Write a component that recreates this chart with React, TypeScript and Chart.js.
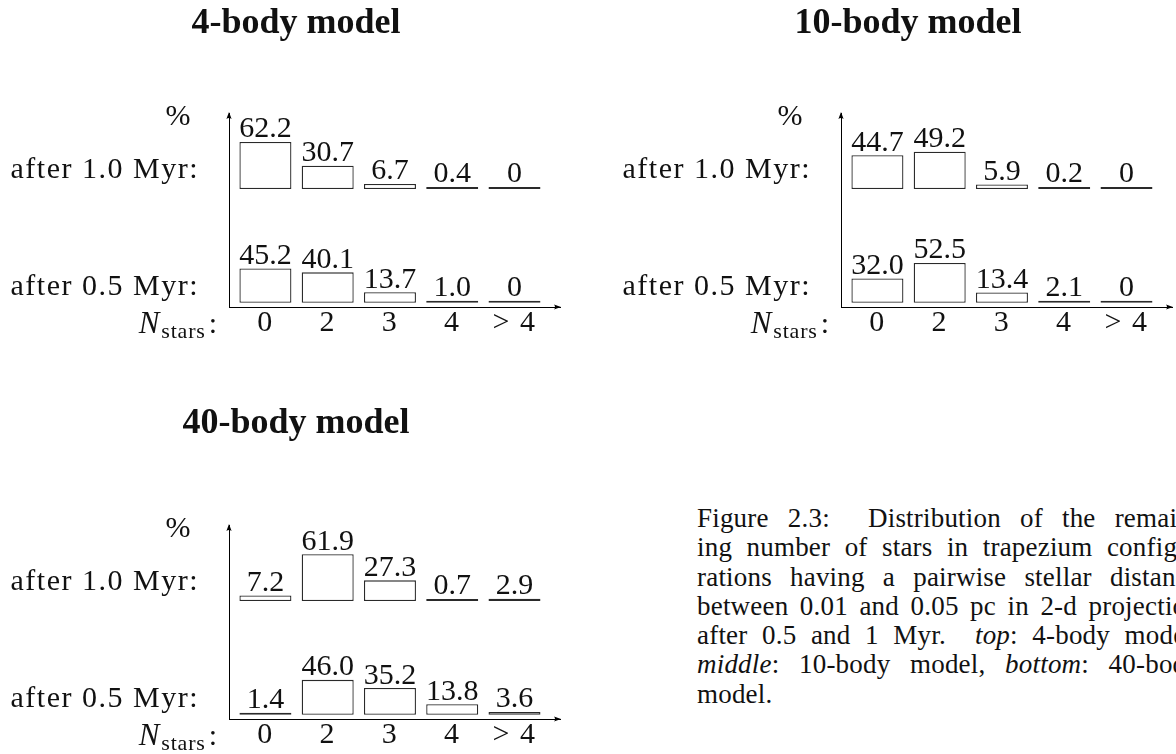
import React, { useEffect, useRef } from "react";
import { Chart, registerables } from "chart.js";

Chart.register(...registerables);

// categories on the horizontal axis: remaining number of stars
const N_STARS = ["0", "2", "3", "4", "> 4"];
const ROW_LABELS = ["after 1.0 Myr:", "after 0.5 Myr:"];
const TITLES = ["4-body model", "10-body model", "40-body model"];

// percentage of configurations per N_STARS category
const BODY4_AFTER_1_0 = [62.2, 30.7, 6.7, 0.4, 0];
const BODY4_AFTER_0_5 = [45.2, 40.1, 13.7, 1.0, 0];
const BODY10_AFTER_1_0 = [44.7, 49.2, 5.9, 0.2, 0];
const BODY10_AFTER_0_5 = [32.0, 52.5, 13.4, 2.1, 0];
const BODY40_AFTER_1_0 = [7.2, 61.9, 27.3, 0.7, 2.9];
const BODY40_AFTER_0_5 = [1.4, 46.0, 35.2, 13.8, 3.6];

type Seg = { t: string; i?: boolean };
const CAPTION: Seg[][] = [
  [{ t: "Figure 2.3:\u00a0 Distribution of the remain-" }],
  [{ t: "ing number of stars in trapezium configu-" }],
  [{ t: "rations having a pairwise stellar distance" }],
  [{ t: "between 0.01 and 0.05 pc in 2-d projection" }],
  [{ t: "after 0.5 and 1 Myr.\u00a0 " }, { t: "top", i: true }, { t: ": 4-body model," }],
  [{ t: "middle", i: true }, { t: ": 10-body model, " }, { t: "bottom", i: true }, { t: ": 40-body" }],
  [{ t: "model." }],
];

const FONT = '"Liberation Serif", "Times New Roman", serif';
const INK = "#111";

// canvas geometry (local to each panel canvas)
const CANVAS_W = 600;
const CANVAS_H = 440;
const AREA = { left: 229, right: 560, top: 153, bottom: 347 };

// both rows share one percent axis; each row sits on its own base line
const Y_MAX = 256.3;
const ROW_BASE = [155.9, 5.7];
const ROW_LABEL_AT = [181.0, 26.6];
const X_MIN = -0.585;
const X_MAX = 4.731;

const PANELS = [
  { title: TITLES[0], rows: [BODY4_AFTER_1_0, BODY4_AFTER_0_5], left: 0, top: -40, titleBaseline: 33 },
  { title: TITLES[1], rows: [BODY10_AFTER_1_0, BODY10_AFTER_0_5], left: 612, top: -40, titleBaseline: 33 },
  { title: TITLES[2], rows: [BODY40_AFTER_1_0, BODY40_AFTER_0_5], left: 0, top: 372, titleBaseline: 433 },
];

function arrowHead(ctx: CanvasRenderingContext2D, x: number, y: number, dir: "up" | "right") {
  ctx.beginPath();
  if (dir === "up") {
    ctx.moveTo(x, y - 1);
    ctx.lineTo(x - 2.6, y + 6);
    ctx.quadraticCurveTo(x, y + 4, x + 2.6, y + 6);
  } else {
    ctx.moveTo(x + 1, y);
    ctx.lineTo(x - 6, y - 2.6);
    ctx.quadraticCurveTo(x - 4, y, x - 6, y + 2.6);
  }
  ctx.closePath();
  ctx.fill();
}

const panelDecor = {
  id: "panelDecor",
  beforeDraw(chart: any) {
    // slightly wider tracking for the row labels on the percent axis
    chart.ctx.letterSpacing = "1.5px";
  },
  beforeDatasetsDraw(chart: any) {
    chart.ctx.letterSpacing = "0px";
  },
  afterDatasetsDraw(chart: any) {
    const ctx: CanvasRenderingContext2D = chart.ctx;
    ctx.save();
    ctx.fillStyle = INK;
    ctx.font = `30px ${FONT}`;
    ctx.textAlign = "center";
    ctx.textBaseline = "alphabetic";
    chart.data.datasets.forEach((ds: any, d: number) => {
      const meta = chart.getDatasetMeta(d);
      meta.data.forEach((el: any, i: number) => {
        const v = ds.values[i];
        const text = v === 0 ? "0" : v.toFixed(1);
        ctx.fillText(text, el.x, Math.min(el.y, el.base) - 4.5);
      });
    });
    ctx.restore();
  },
  afterDraw(chart: any, _args: any, opts: any) {
    const ctx: CanvasRenderingContext2D = chart.ctx;
    const area = chart.chartArea;
    ctx.save();
    ctx.letterSpacing = "0px";
    ctx.fillStyle = INK;

    // panel title
    ctx.font = `bold 36px ${FONT}`;
    ctx.textAlign = "center";
    ctx.textBaseline = "alphabetic";
    ctx.fillText(opts.title, 296, opts.titleY);

    // unit of the vertical axis
    ctx.font = `30px ${FONT}`;
    ctx.fillText("%", 178, area.top + 12);

    // N_stars: label in front of the category ticks
    const base = area.bottom + 26;
    ctx.textAlign = "left";
    ctx.font = `italic 31px ${FONT}`;
    const wN = ctx.measureText("N").width;
    ctx.font = `22px ${FONT}`;
    ctx.letterSpacing = "0.8px";
    const wSub = ctx.measureText("stars").width;
    ctx.letterSpacing = "0px";
    ctx.font = `30px ${FONT}`;
    const wColon = ctx.measureText(":").width;
    let x = 217 - (wN + 2 + wSub + 3 + wColon);
    ctx.font = `italic 31px ${FONT}`;
    ctx.fillText("N", x, base);
    x += wN + 2;
    ctx.font = `22px ${FONT}`;
    ctx.letterSpacing = "0.8px";
    ctx.fillText("stars", x, base + 5);
    ctx.letterSpacing = "0px";
    x += wSub + 3;
    ctx.font = `30px ${FONT}`;
    ctx.fillText(":", x, base);

    // arrow heads on both axes
    ctx.fillStyle = "#000";
    arrowHead(ctx, area.left, area.top, "up");
    arrowHead(ctx, area.right, area.bottom, "right");
    ctx.restore();
  },
};

function makeConfig(panel: any): any {
  const datasets = panel.rows.map((vals: number[], r: number) => ({
    label: ROW_LABELS[r],
    values: vals,
    data: vals.map((v, i) => ({ x: i, y: [ROW_BASE[r], ROW_BASE[r] + v] })),
    backgroundColor: "#ffffff",
    borderColor: "#2a2a2a",
    borderWidth: 1.3,
    borderSkipped: false,
    barThickness: 52,
    minBarLength: 2,
    grouped: false,
    inflateAmount: 0,
  }));
  const axisFont = { family: FONT, size: 30, lineHeight: 1.07 };
  return {
    type: "bar",
    data: { datasets },
    options: {
      responsive: false,
      animation: false,
      devicePixelRatio: 1,
      events: [],
      layout: { padding: { top: AREA.top, right: CANVAS_W - AREA.right, left: 0, bottom: 0 } },
      plugins: {
        legend: { display: false },
        tooltip: { enabled: false },
        title: { display: false },
        panelDecor: { title: panel.title, titleY: panel.titleBaseline - panel.top },
      },
      scales: {
        x: {
          type: "linear",
          min: X_MIN,
          max: X_MAX,
          offset: false,
          grid: { display: false, drawTicks: false },
          border: { display: true, color: "#000", width: 1 },
          ticks: {
            autoSkip: false,
            maxRotation: 0,
            minRotation: 0,
            padding: 0,
            color: INK,
            font: axisFont,
            callback: (v: number) => N_STARS[v] ?? "",
          },
          afterBuildTicks: (s: any) => {
            s.ticks = N_STARS.map((_, i) => ({ value: i }));
          },
          afterFit: (s: any) => {
            s.height = CANVAS_H - AREA.bottom;
          },
        },
        y: {
          type: "linear",
          min: 0,
          max: Y_MAX,
          bounds: "data",
          grid: { display: false, drawTicks: false },
          border: { display: true, color: "#000", width: 1 },
          ticks: {
            autoSkip: false,
            padding: 30,
            color: INK,
            font: { family: FONT, size: 30 },
            callback: (_v: number, i: number) => ROW_LABELS[i],
          },
          afterBuildTicks: (s: any) => {
            s.ticks = ROW_LABEL_AT.map((v) => ({ value: v }));
          },
          afterFit: (s: any) => {
            s.width = AREA.left;
          },
        },
      },
    },
    plugins: [panelDecor],
  };
}

function Panel({ panel }: { panel: any }) {
  const ref = useRef<HTMLCanvasElement | null>(null);
  useEffect(() => {
    if (!ref.current) return;
    const chart = new Chart(ref.current, makeConfig(panel));
    return () => chart.destroy();
  }, [panel]);
  return (
    <canvas
      ref={ref}
      width={CANVAS_W}
      height={CANVAS_H}
      style={{ position: "absolute", left: panel.left, top: panel.top, width: CANVAS_W, height: CANVAS_H, display: "block" }}
    />
  );
}

export default function App() {
  return (
    <div
      style={{
        position: "fixed",
        left: 0,
        top: 0,
        width: 1176,
        height: 754,
        overflow: "hidden",
        background: "#ffffff",
      }}
    >
      {PANELS.map((p, k) => (
        <Panel key={k} panel={p} />
      ))}
      <div
        style={{
          position: "absolute",
          left: 697,
          top: 504,
          width: 503,
          fontFamily: FONT,
          fontSize: 27,
          letterSpacing: "0.2px",
          lineHeight: "29.3px",
          color: INK,
        }}
      >
        {CAPTION.map((line, k) => (
          <div
            key={k}
            style={{
              textAlign: "justify",
              textAlignLast: k < CAPTION.length - 1 ? "justify" : "left",
            }}
          >
            {line.map((s, j) => (s.i ? <i key={j}>{s.t}</i> : <span key={j}>{s.t}</span>))}
          </div>
        ))}
      </div>
    </div>
  );
}
